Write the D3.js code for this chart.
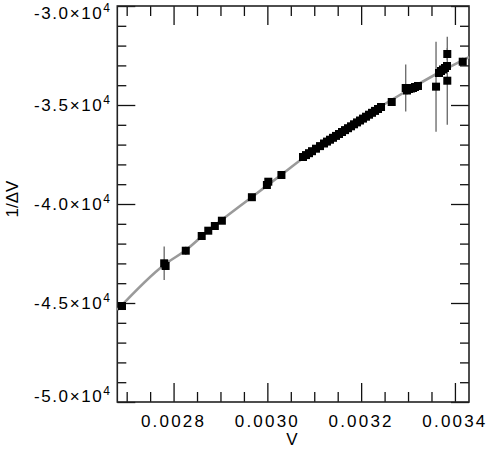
<!DOCTYPE html>
<html><head><meta charset="utf-8">
<script src="https://cdn.jsdelivr.net/npm/d3@7"></script>
<style>body{margin:0;background:#fff}svg{display:block}text{font-family:"Liberation Sans",Arial,Helvetica,sans-serif}</style>
</head><body><svg id="c" width="487" height="452"></svg>
<script>
// data points: V, 1/ΔV, error (1/ΔV units)
const pointV = [0.002690,0.002780,0.002783,0.002826,0.002860,0.002874,0.002888,0.002903,0.002967,0.002999,0.003002,0.003030,
0.0030760,0.0030824,0.0030888,0.0030952,0.0031037,0.0031123,0.0031208,0.0031272,0.0031336,0.0031400,0.0031464,0.0031528,0.0031592,0.0031656,0.0031720,0.0031784,0.0031848,0.0031912,0.0031976,0.0032040,0.0032104,0.0032168,0.0032232,0.0032296,0.0032360,0.0032424,
0.0032652,0.0032950,0.0032978,0.0033020,0.0033063,0.0033106,0.0033148,0.0033212,0.0033597,0.0033660,0.0033703,0.0033745,0.0033788,0.0033831,0.0033837,0.0033837,0.0034166];
const pointY = [-45152,-42995,-43131,-42359,-41616,-41348,-41111,-40844,-39657,-39040,-38874,-38535,
-37626,-37530,-37434,-37333,-37207,-37076,-36944,-36848,-36753,-36657,-36561,-36465,-36364,-36268,-36172,-36076,-35975,-35879,-35783,-35687,-35591,-35490,-35394,-35298,-35202,-35101,
-34848,-34141,-34268,-34192,-34167,-34141,-34091,-34040,-34074,-33384,-33283,-33207,-33131,-33030,-32424,-33773,-32813];
const pointErr = [150,843,0,200,150,150,120,120,120,100,100,100,
80,80,80,80,80,80,80,80,80,80,80,80,80,80,80,80,80,80,80,80,80,80,80,80,80,80,
150,1187,200,200,200,200,200,200,2273,200,200,200,200,200,300,2222,200];
// fitted curve samples
const fitV = [0.00268,0.0027796,0.0028265,0.0028734,0.0029672,0.0030291,0.0030824,0.0031549,0.0032402,0.0033042,0.0033682,0.00343];
const fitY = [-45354,-43081,-42323,-41364,-39646,-38535,-37576,-36465,-35101,-34192,-33333,-32576];
const xTickVals = [0.0028,0.0030,0.0032,0.0034];
const xTickLabels = ["0.0028","0.0030","0.0032","0.0034"];
const yTickVals = [-30000,-35000,-40000,-45000,-50000];
const yTickMant = ["-3.0","-3.5","-4.0","-4.5","-5.0"];

const L=117.3,R=469,T=6,B=402;
const svg=d3.select("#c");
const x=d3.scaleLinear().domain([0.00268,0.00343]).range([L,R]);
const y=d3.scaleLinear().domain([-50000,-30000]).range([B,T]);

const xMinor=d3.range(0.0027,0.003431,0.00005).filter(v=>!xTickVals.some(t=>Math.abs(t-v)<1e-9));
const yMinor=d3.range(-49000,-30000,1000).filter(v=>v%5000!==0);

function axisG(axis,tx,ty){
  const g=svg.append("g").attr("transform",`translate(${tx},${ty})`).call(axis);
  g.select(".domain").remove();
  g.selectAll("line").attr("stroke","#111").attr("stroke-width",1.3);
  g.selectAll("text").remove();
  return g;
}
axisG(d3.axisBottom(x).tickValues(xTickVals).tickSize(-19),0,B);
axisG(d3.axisBottom(x).tickValues(xMinor).tickSize(-10),0,B);
axisG(d3.axisTop(x).tickValues(xTickVals).tickSize(-19),0,T);
axisG(d3.axisTop(x).tickValues(xMinor).tickSize(-10),0,T);
axisG(d3.axisLeft(y).tickValues(yTickVals).tickSize(-18),L,0);
axisG(d3.axisLeft(y).tickValues(yMinor).tickSize(-9),L,0);
axisG(d3.axisRight(y).tickValues(yTickVals).tickSize(-18),R,0);
axisG(d3.axisRight(y).tickValues(yMinor).tickSize(-9),R,0);

svg.append("rect").attr("x",L).attr("y",T).attr("width",R-L).attr("height",B-T)
  .attr("fill","none").attr("stroke","#222").attr("stroke-width",1.6);

// fit curve
const fit=fitV.map((v,i)=>[v,fitY[i]]);
svg.append("path").datum(fit)
  .attr("d",d3.line().x(d=>x(d[0])).y(d=>y(d[1])).curve(d3.curveMonotoneX))
  .attr("fill","none").attr("stroke","#9a9a9a").attr("stroke-width",2.6);

const pts=pointV.map((v,i)=>({v,yv:pointY[i],e:pointErr[i]}));
svg.append("g").selectAll("line").data(pts.filter(d=>d.e>0)).join("line")
  .attr("x1",d=>x(d.v)).attr("x2",d=>x(d.v))
  .attr("y1",d=>y(d.yv-d.e)).attr("y2",d=>y(d.yv+d.e))
  .attr("stroke","#707070").attr("stroke-width",1.4);
svg.append("g").selectAll("rect").data(pts).join("rect")
  .attr("x",d=>x(d.v)-4).attr("y",d=>y(d.yv)-4).attr("width",8).attr("height",8)
  .attr("fill","#000");

// x tick labels
svg.append("g").selectAll("text").data(xTickVals).join("text")
  .attr("x",(d)=>x(d)).attr("y",427).attr("text-anchor","middle")
  .attr("font-size",17).attr("letter-spacing",2.2)
  .text((d,i)=>xTickLabels[i]);
// y tick labels
const yLab=svg.append("g");
yTickVals.forEach((v,i)=>{
  let by=y(v)+6;
  if(i===0) by=18.5;
  if(i===4) by=401.5;
  const t=yLab.append("text").attr("x",110).attr("y",by).attr("text-anchor","end")
    .attr("font-size",17).attr("letter-spacing",1.6);
  t.append("tspan").text(yTickMant[i]+"\u00d710");
  t.append("tspan").attr("font-size",12).attr("dy",-7).attr("letter-spacing",0).text("4");
});
svg.append("text").attr("x",292).attr("y",445).attr("text-anchor","middle").attr("font-size",17).text("V");
svg.append("text").attr("transform","translate(18,199) rotate(-90)").attr("text-anchor","middle").attr("font-size",17).text("1/ΔV");
</script></body></html>
